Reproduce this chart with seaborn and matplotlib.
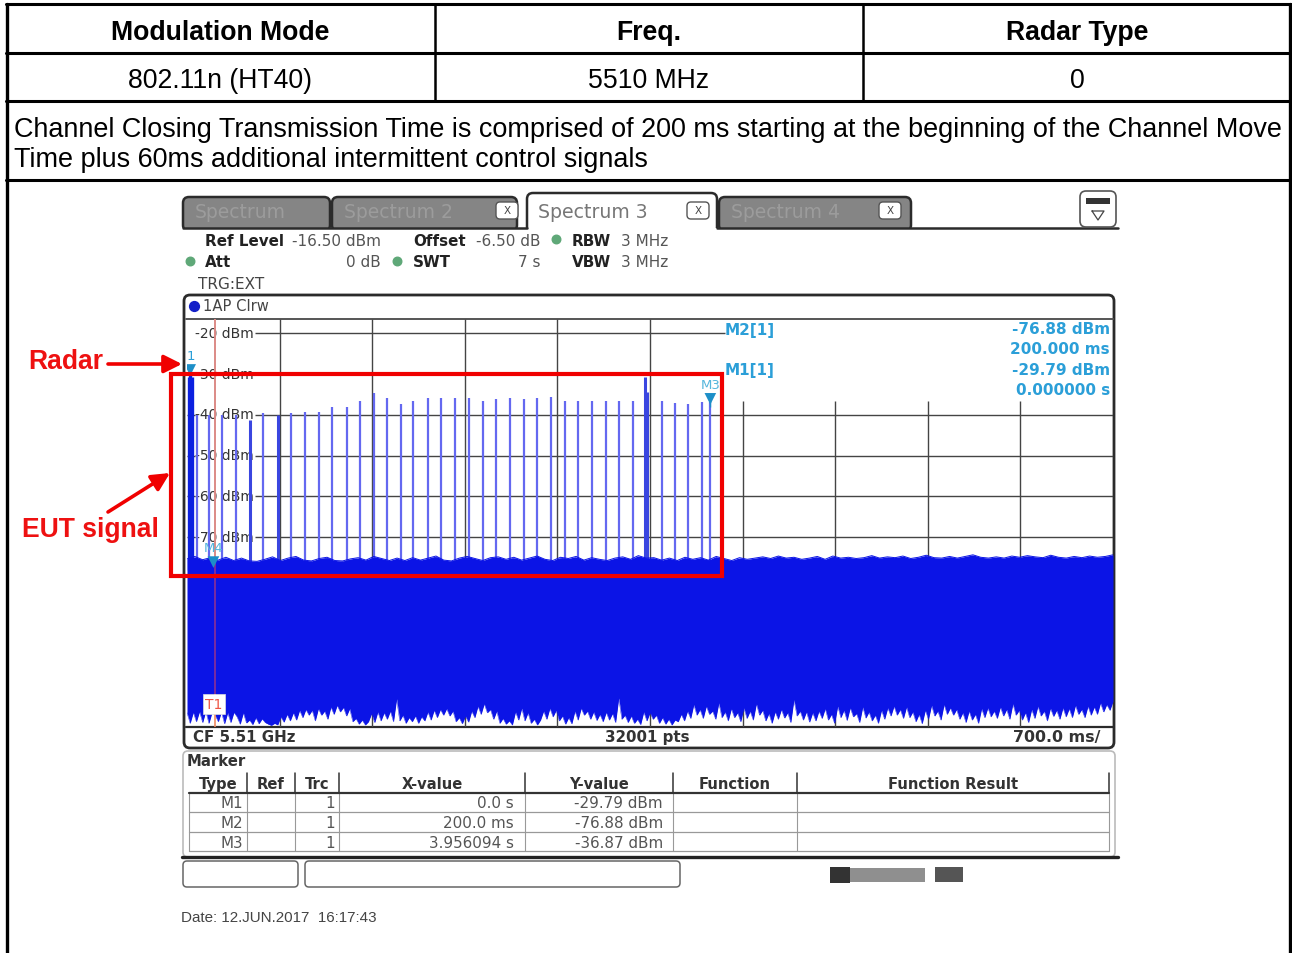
import numpy as np
import pandas as pd
import matplotlib
matplotlib.use('Agg')
import matplotlib.pyplot as plt
from matplotlib.patches import FancyBboxPatch, Rectangle
from matplotlib.transforms import ScaledTranslation
import seaborn as sns

# 表头文字
table_head = ['Modulation Mode', 'Freq.', 'Radar Type']
table_row = ['802.11n (HT40)', '5510 MHz', '0']
note_lines = ['Channel Closing Transmission Time is comprised of 200 ms starting at the beginning of the Channel Move',
              'Time plus 60ms additional intermittent control signals']

# 频谱数据
sweep_s = 7.0
ref_dbm = -16.5
bottom_dbm = -116.5
y_ticks = [-20, -30, -40, -50, -60, -70]
y_labels = ['-20 dBm', '-30 dBm', '-40 dBm', '-50 dBm', '-60 dBm', '-70 dBm']
div_s = [0.7, 1.4, 2.1, 2.8, 3.5, 4.2, 4.9, 5.6, 6.3]

spike_t = [0.076, 0.166, 0.264, 0.37, 0.575, 0.786, 0.892, 0.998, 1.096, 1.209,
           1.307, 1.413, 1.512, 1.618, 1.709, 1.823, 1.921, 2.027, 2.132, 2.238,
           2.336, 2.442, 2.548, 2.646, 2.752, 2.858, 2.956, 3.062, 3.168, 3.266,
           3.372, 3.477, 3.591, 3.689, 3.788, 3.894, 3.956]
spike_db = [-40.1, -40.1, -40.1, -40.1, -39.6, -39.6, -39.4, -39.4, -38.1, -38.1,
            -36.7, -34.7, -35.9, -37.4, -36.7, -35.9, -35.9, -35.9, -35.9, -36.7,
            -36.2, -35.9, -36.2, -35.9, -35.7, -36.7, -36.7, -36.7, -36.7, -36.7,
            -36.7, -37.1, -36.7, -37.1, -37.4, -36.9, -36.87]
thick_t = [0.475, 0.688, 3.46, 3.48]
thick_db = [-41.3, -40.1, -30.8, -34.5]
radar_t = [0.012, 0.024, 0.036]
radar_db = [-30.6, -29.79, -30.6]

# 噪声上沿
noise_top = [-75.3, -74.7, -75.5, -75.0, -75.6, -74.9, -75.7, -75.1, -75.8, -75.9, -75.4, -74.8, -75.7, -75.1, -74.7, -75.6, -75.8, -75.2, -74.9, -75.7,
             -75.8, -75.3, -75.0, -75.6, -74.7, -75.2, -75.7, -75.1, -75.7, -75.0, -75.6, -75.1, -74.6, -75.6, -75.8, -75.1, -74.7, -75.2, -75.7, -75.0,
             -74.8, -75.4, -74.9, -75.6, -75.1, -74.6, -75.4, -75.7, -74.9, -75.2, -74.7, -75.6, -75.0, -75.4, -75.7, -75.1, -74.8, -75.4, -74.5, -75.1,
             -75.0, -75.6, -75.1, -75.7, -74.9, -75.4, -75.0, -75.6, -74.7, -75.2, -75.7, -75.0, -75.4, -75.1, -74.8, -75.2, -74.6, -75.1, -74.9, -75.4,
             -75.1, -74.7, -75.4, -74.6, -75.1, -74.9, -75.2, -75.0, -74.5, -75.1, -74.8, -75.0, -74.6, -75.2, -74.9, -74.4, -75.0, -75.1, -74.7, -75.1,
             -74.7, -74.3, -74.9, -75.1, -74.8, -75.1, -74.6, -74.9, -74.5, -74.8, -75.0, -74.4, -74.9, -75.1, -74.7, -75.0, -74.6, -74.9, -74.7, -74.3]

# 噪声下沿 (白色毛刺)
noise_bottom = [-113.0, -115.6, -112.9, -115.2, -112.7, -115.4, -112.6, -115.6, -112.9, -113.6, -115.2, -112.8, -115.7, -113.0, -115.4, -112.9, -114.0, -115.8, -113.0, -115.5,
                -114.8, -115.9, -114.2, -115.7, -114.5, -115.4, -115.8, -116.1, -115.6, -116.0, -114.0, -115.3, -113.4, -115.0, -113.0, -114.8, -112.4, -114.2, -112.2, -113.6,
                -112.4, -115.0, -112.0, -113.6, -112.6, -114.6, -111.6, -113.4, -111.2, -112.8, -111.7, -113.8, -112.0, -115.2, -114.4, -115.8, -114.8, -116.0, -115.2, -113.2,
                -115.4, -112.8, -115.0, -113.0, -114.6, -112.6, -115.2, -109.6, -115.0, -113.6, -115.6, -114.2, -115.2, -113.8, -115.6, -114.0, -115.0, -112.8, -114.8, -112.4,
                -114.2, -112.2, -113.6, -112.0, -113.8, -112.6, -115.2, -114.2, -115.7, -113.8, -115.3, -112.6, -114.2, -111.4, -113.4, -110.8, -113.0, -112.2, -114.6, -112.6,
                -115.6, -114.4, -115.8, -115.0, -116.0, -112.8, -114.8, -111.9, -115.0, -113.0, -115.6, -114.6, -116.0, -114.8, -112.6, -114.6, -111.9, -114.0, -112.4, -115.0,
                -113.8, -115.8, -114.2, -115.7, -112.6, -114.8, -111.9, -113.6, -112.6, -114.6, -112.8, -114.9, -113.4, -115.2, -112.9, -114.8, -113.2, -115.4, -109.4, -114.6,
                -113.6, -115.4, -113.8, -115.6, -114.6, -115.9, -112.8, -115.0, -113.0, -114.6, -113.6, -115.6, -114.2, -115.8, -114.6, -116.0, -114.8, -115.2, -113.4, -115.0,
                -112.6, -114.4, -111.0, -113.6, -112.2, -114.4, -111.4, -113.4, -112.6, -114.6, -110.6, -114.2, -112.8, -115.0, -112.0, -114.2, -113.0, -115.2, -111.8, -114.4,
                -112.6, -114.8, -110.8, -113.6, -112.4, -115.0, -113.2, -115.6, -112.8, -114.6, -112.2, -114.3, -113.0, -115.4, -109.8, -113.8, -112.6, -114.8, -112.8, -115.3,
                -113.0, -115.0, -112.6, -114.4, -112.0, -114.8, -113.4, -115.6, -111.4, -114.2, -112.4, -114.9, -111.8, -114.0, -113.2, -115.4, -111.6, -114.3, -112.8, -115.0,
                -113.6, -115.6, -112.4, -114.6, -111.8, -113.8, -111.4, -113.6, -112.2, -114.4, -111.6, -114.2, -112.8, -115.2, -113.4, -115.7, -112.4, -114.6, -111.2, -113.8,
                -112.6, -114.8, -111.0, -113.4, -111.8, -113.6, -112.2, -114.6, -113.0, -115.4, -112.6, -114.8, -113.4, -115.6, -112.0, -114.2, -111.8, -114.0, -112.6, -114.4,
                -111.6, -113.8, -112.2, -114.6, -110.8, -113.6, -112.4, -114.8, -113.0, -115.4, -112.2, -114.4, -111.4, -113.8, -112.6, -115.0, -111.9, -113.9, -112.4, -114.6,
                -111.8, -114.0, -112.0, -114.2, -111.2, -113.4, -112.2, -114.2, -111.4, -113.6, -111.6, -113.4, -110.6, -112.8, -111.0, -112.4, -110.2]

# marker 数据
marker_t = [0.024, 0.2, 3.956094]
marker_db = [-29.79, -76.88, -36.87]
marker_rows = [['M1', '1', '0.0 s', '-29.79 dBm'], ['M2', '1', '200.0 ms', '-76.88 dBm'], ['M3', '1', '3.956094 s', '-36.87 dBm']]
marker_head = ['Type', 'Ref', 'Trc', 'X-value', 'Y-value', 'Function', 'Function Result']

sns.set_theme(style='white')
plt.rcParams['font.family'] = ['DejaVu Sans']

BLUE = '#0b14e6'
CYAN = '#2b9fd8'
RED = '#f00000'
DARK = '#2b2b2b'
ARIAL = ['Liberation Sans', 'DejaVu Sans']

fig = plt.figure(figsize=(12.92, 9.54), dpi=100, facecolor='white')

# 页面表格层
page = fig.add_axes([0, 0, 1, 1], zorder=0)
page.set_xlim(0, 1292)
page.set_ylim(954, 0)
page.axis('off')

page.plot([7, 7], [5, 954], color='black', lw=2.4)
page.plot([1290, 1290], [5, 954], color='black', lw=2.4)
for yy in [5, 54, 102, 181]:
    page.plot([6, 1291], [yy, yy], color='black', lw=2.2)
for xx in [435, 863]:
    page.plot([xx, xx], [5, 102], color='black', lw=1.8)

for cx, head, row in zip([220, 649, 1077], table_head, table_row):
    page.text(cx, 33, head, ha='center', va='center', fontsize=19.2, fontweight='bold', family=ARIAL, color='black')
    page.text(cx, 81, row, ha='center', va='center', fontsize=19.2, family=ARIAL, color='black')
page.text(14, 130, note_lines[0], ha='left', va='center', fontsize=19.45, family=ARIAL, color='black')
page.text(14, 160, note_lines[1], ha='left', va='center', fontsize=19.45, family=ARIAL, color='black')


def box(x0, y0, x1, y1, fc='white', ec=DARK, lw=1.5, r=6, z=2):
    page.add_patch(FancyBboxPatch((x0 + r, y0 + r), x1 - x0 - 2 * r, y1 - y0 - 2 * r,
                                  boxstyle='round,pad=%d,rounding_size=%d' % (r, r),
                                  fc=fc, ec=ec, lw=lw, zorder=z))


# 顶部标签页
for x0, x1, name in [(183, 330, 'Spectrum'), (332, 517, 'Spectrum 2'), (719, 911, 'Spectrum 4')]:
    box(x0, 198, x1, 232, fc='#858585', lw=1.8)
    page.text(x0 + 12, 213, name, ha='left', va='center', fontsize=13.5, color='#9c9c9c', zorder=4)
page.add_patch(Rectangle((180, 229), 940, 8, fc='white', ec='none', zorder=3))
page.plot([183, 527], [229, 229], color=DARK, lw=1.8, zorder=4)
page.plot([717, 1118], [229, 229], color=DARK, lw=1.8, zorder=4)
box(527, 194, 717, 234, fc='white', lw=1.8)
page.add_patch(Rectangle((529, 226), 186, 10, fc='white', ec='none', zorder=3))
page.text(538, 212, 'Spectrum 3', ha='left', va='center', fontsize=13.6, color='#777777', zorder=4)
for cx in [507, 698, 890]:
    box(cx - 11, 203, cx + 11, 220, fc='white', ec='#555555', lw=1, r=4, z=4)
    page.text(cx, 211.5, 'X', ha='center', va='center', fontsize=7.5, color='#444444', zorder=5)
box(1080, 192, 1116, 228, fc='white', ec='#555555', lw=1.2, r=6, z=4)
page.add_patch(Rectangle((1086, 199), 24, 6, fc='#333333', ec='none', zorder=5))
page.plot([1092, 1104, 1098, 1092], [212, 212, 221, 212], color='#444444', lw=0.9, zorder=5)

# 仪器参数
info_b = [(205, 241, 'Ref Level'), (413, 241, 'Offset'), (572, 241, 'RBW'), (205, 263, 'Att'), (413, 263, 'SWT'), (572, 263, 'VBW')]
for xx, yy, txt in info_b:
    page.text(xx, yy, txt, ha='left', va='center', fontsize=10.9, fontweight='bold', color='#222222')
info_r = [(381, 241, '-16.50 dBm'), (540, 241, '-6.50 dB'), (668, 241, '3 MHz'), (381, 263, '0 dB'), (540, 263, '7 s'), (668, 263, '3 MHz')]
for xx, yy, txt in info_r:
    page.text(xx, yy, txt, ha='right', va='center', fontsize=11, color='#555555')
page.text(198, 285, 'TRG:EXT', ha='left', va='center', fontsize=11, color='#444444')
page.scatter([556, 190, 397], [240, 262, 262], s=38, color='#5fa878', marker='o', zorder=4)

# 图框
box(184, 296, 1114, 749, fc='white', lw=2, r=6, z=1)
page.plot([186, 1113], [320, 320], color='#555555', lw=1.4, zorder=3)
page.plot([186, 1113], [728, 728], color=DARK, lw=1.6, zorder=3)
page.scatter([194], [307], s=50, color='#1420c8', zorder=4)
page.text(203, 307, '1AP Clrw', ha='left', va='center', fontsize=10.6, color='#444444')
page.text(193, 738, 'CF 5.51 GHz', ha='left', va='center', fontsize=10.8, fontweight='bold', color='#333333')
page.text(647, 738, '32001 pts', ha='center', va='center', fontsize=10.8, fontweight='bold', color='#333333')
page.text(1100, 738, '700.0 ms/', ha='right', va='center', fontsize=11.4, fontweight='bold', color='#333333')

# marker 表
box(183, 752, 1115, 858, fc='white', ec='#bbbbbb', lw=1.2, r=5, z=1)
page.text(187, 762, 'Marker', ha='left', va='center', fontsize=10.7, fontweight='bold', color='#333333')
col_x = [189, 247, 295, 339, 525, 673, 797, 1109]
for xx in col_x[1:]:
    page.plot([xx, xx], [774, 794], color='#333333', lw=1.1, zorder=3)
    page.plot([xx, xx], [794, 852], color='#999999', lw=0.8, zorder=3)
page.plot([189, 189], [794, 852], color='#999999', lw=0.8, zorder=3)
page.plot([189, 1109], [794, 794], color='#333333', lw=1.6, zorder=3)
for yy in [813, 833, 852]:
    page.plot([189, 1109], [yy, yy], color='#999999', lw=0.9, zorder=3)
for i, head in enumerate(marker_head):
    page.text((col_x[i] + col_x[i + 1]) / 2, 785, head, ha='center', va='center', fontsize=10.6, fontweight='bold', color='#333333')
for yy, row in zip([804, 824, 844], marker_rows):
    page.text(243, yy, row[0], ha='right', va='center', fontsize=10.9, color='#555555')
    page.text(335, yy, row[1], ha='right', va='center', fontsize=10.9, color='#555555')
    page.text(514, yy, row[2], ha='right', va='center', fontsize=10.9, color='#555555')
    page.text(663, yy, row[3], ha='right', va='center', fontsize=10.9, color='#555555')
page.plot([182, 1118], [858, 858], color='#222222', lw=2.4, zorder=3)

# 底部状态栏
box(183, 862, 298, 888, fc='white', ec='#666666', lw=1.1, r=4)
box(305, 862, 680, 888, fc='white', ec='#666666', lw=1.1, r=4)
page.add_patch(Rectangle((830, 868), 20, 16, fc='#333333', ec='none', zorder=3))
page.add_patch(Rectangle((850, 869), 75, 14, fc='#8f8f8f', ec='none', zorder=3))
page.add_patch(Rectangle((935, 868), 28, 15, fc='#555555', ec='none', zorder=3))
page.text(181, 918, 'Date: 12.JUN.2017  16:17:43', ha='left', va='center', fontsize=10.9, family=ARIAL, color='#444444')

# 频谱图
ax = fig.add_axes([187 / 1292, 1 - 728 / 954, 926 / 1292, 408 / 954], zorder=1)
ax.patch.set_alpha(0)
ax.set_xlim(0, sweep_s)
ax.set_ylim(bottom_dbm, ref_dbm)
sns.despine(ax=ax, left=True, bottom=True)
ax.spines['top'].set_visible(False)
ax.set_xticks([])
ax.set_yticks(y_ticks)
ax.set_yticklabels(y_labels)
ax.tick_params(axis='y', direction='in', length=6, width=1, color='#444444', pad=-5.5, labelsize=10, labelcolor='#333333', left=True)
for lab in ax.get_yticklabels():
    lab.set_ha('left')
    lab.set_transform(lab.get_transform() + ScaledTranslation(0, 2 / 100, fig.dpi_scale_trans))
for tk in ax.yaxis.get_major_ticks()[:2]:
    tk.tick1line.set_visible(False)

ax.hlines(-20, 0.514, 4.067, color='#444444', lw=1, zorder=1)
ax.hlines(y_ticks[2:], 0.514, sweep_s, color='#444444', lw=1, zorder=1)
ax.vlines(div_s[:5], bottom_dbm, ref_dbm, color='#444444', lw=1, zorder=1)
ax.vlines(div_s[5:], bottom_dbm, -36.7, color='#444444', lw=1, zorder=1)

ax.vlines(spike_t, -78, spike_db, color='#6468f0', lw=1.6, zorder=2)
ax.vlines(thick_t, -78, thick_db, color='#3a46e0', lw=2.2, zorder=2)
ax.vlines(radar_t, -78, radar_db, color='#0b20e0', lw=2.4, zorder=2)

trace = pd.DataFrame({'t': np.linspace(0, sweep_s, len(noise_top)), 'top': noise_top})
floor = pd.DataFrame({'t': np.linspace(0, sweep_s, len(noise_bottom)), 'low': noise_bottom})
low_on_top = np.interp(floor['t'], trace['t'], trace['top'])
ax.fill_between(floor['t'], floor['low'], low_on_top, color=BLUE, lw=0, zorder=3)
sns.lineplot(data=trace, x='t', y='top', color=BLUE, lw=0.7, errorbar=None, estimator=None, ax=ax, zorder=3)
sns.lineplot(data=floor, x='t', y='low', color=BLUE, lw=0.3, errorbar=None, estimator=None, ax=ax, zorder=3)
ax.set_xlabel('')
ax.set_ylabel('')

# T1 触发线
ax.vlines(0.21, -76, ref_dbm, color='#dc8a86', lw=1.4, zorder=4)
ax.vlines(0.21, bottom_dbm + 8, -76, color='#7a2ba0', lw=1.4, zorder=4)
ax.vlines(0.21, bottom_dbm, bottom_dbm + 8, color='#ef8a60', lw=1.2, zorder=4)

# marker 三角
mk = pd.DataFrame({'t': marker_t, 'db': [m + 0.8 for m in marker_db]})
sns.scatterplot(data=mk, x='t', y='db', marker='v', s=70, color='#1d8fc8', edgecolor='none', ax=ax, zorder=5)
ax.set_xlabel('')
ax.set_ylabel('')
ax.vlines(3.956094, -38, -36.3, color='#1d8fc8', lw=1, zorder=5)
ax.text(0.03, -25.4, '1', color=CYAN, fontsize=9.5, ha='center', va='center', zorder=5)
ax.text(0.2, -72.4, 'M4', color='#55b6dc', fontsize=9.5, ha='center', va='center', zorder=5)
ax.text(3.956, -32.5, 'M3', color='#55b6dc', fontsize=9.5, ha='center', va='center', zorder=5)

page2 = fig.add_axes([0, 0, 1, 1], zorder=2)
page2.patch.set_alpha(0)
page2.set_xlim(0, 1292)
page2.set_ylim(954, 0)
page2.axis('off')

# T1 标签
page2.add_patch(Rectangle((203, 695), 22, 20, fc='white', ec='#dddddd', lw=0.5, zorder=2))
page2.text(214, 705, 'T1', color='#ee5544', fontsize=10, ha='center', va='center', zorder=3)

# 右侧蓝色读数
for xx, yy, txt in [(725, 331, 'M2[1]'), (725, 371, 'M1[1]')]:
    page2.text(xx, yy, txt, color=CYAN, fontsize=11, fontweight='bold', ha='left', va='center')
for yy, txt in [(330, '-76.88 dBm'), (350, '200.000 ms'), (371, '-29.79 dBm'), (391, '0.000000 s')]:
    page2.text(1110, yy, txt, color=CYAN, fontsize=11, fontweight='bold', ha='right', va='center')

# 红色标注
page2.add_patch(Rectangle((171, 375), 551, 202, fc='none', ec=RED, lw=3, zorder=6))
page2.text(28, 362, 'Radar', color='#ee1111', fontsize=19.1, fontweight='bold', family=ARIAL, ha='left', va='center')
page2.text(22, 530, 'EUT signal', color='#ee1111', fontsize=19.1, fontweight='bold', family=ARIAL, ha='left', va='center')
page2.annotate('', xy=(182, 365), xytext=(108, 365), arrowprops=dict(arrowstyle='-|>,head_width=0.45,head_length=0.9', color=RED, lw=2.6, shrinkA=0, shrinkB=0))
page2.annotate('', xy=(170, 474), xytext=(108, 513), arrowprops=dict(arrowstyle='-|>,head_width=0.45,head_length=0.9', color=RED, lw=2.6, shrinkA=0, shrinkB=0))

fig.savefig('out.png', dpi=100)
